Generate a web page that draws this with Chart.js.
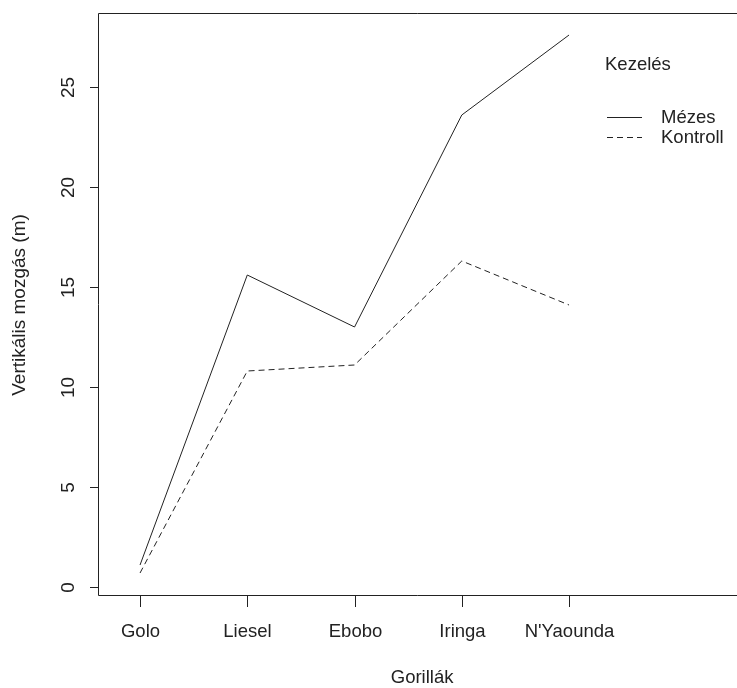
<!DOCTYPE html>
<html>
<head>
<meta charset="utf-8">
<script src="https://cdn.jsdelivr.net/npm/chart.js@4.4.1/dist/chart.umd.min.js"></script>
<style>
html,body{margin:0;padding:0;background:#fff;}
#wrap{width:737px;height:688px;position:relative;}
</style>
</head>
<body>
<div id="wrap"><canvas id="c" width="737" height="688"></canvas></div>
<script>
const categories = ["Golo", "Liesel", "Ebobo", "Iringa", "N'Yaounda"];
const mezes = [1.1, 15.6, 13.0, 23.6, 27.6];
const kontroll = [0.7, 10.8, 11.1, 16.3, 14.1];
const yTicks = [0, 5, 10, 15, 20, 25];
const seriesNames = ["Mézes", "Kontroll"];
const legendTitle = "Kezelés";
const xTitle = "Gorillák";
const yTitle = "Vertikális mozgás (m)";

const FONT_H = '18.5px "Liberation Sans", Arial, sans-serif';
const FONT_V = '19px "Liberation Sans", Arial, sans-serif';
const INK = '#222';

function pts(arr){ return arr.map((v,i)=>({x:i,y:v})); }

const rPlot = {
  id:'rPlot',
  afterDraw(chart){
    const ctx = chart.ctx, ca = chart.chartArea;
    const xs = chart.scales.x, ys = chart.scales.y;
    ctx.save();
    ctx.strokeStyle = INK; ctx.lineWidth = 1;
    // box (left, top, bottom; right side lies beyond the picture)
    ctx.beginPath();
    ctx.moveTo(chart.width, Math.round(ca.top)+0.5);
    ctx.lineTo(Math.round(ca.left)+0.5, Math.round(ca.top)+0.5);
    ctx.lineTo(Math.round(ca.left)+0.5, Math.round(ca.bottom)+0.5);
    ctx.lineTo(chart.width, Math.round(ca.bottom)+0.5);
    ctx.stroke();
    ctx.fillStyle = INK;
    // y ticks
    ctx.font = FONT_V;
    yTicks.forEach(t=>{
      const py = Math.round(ys.getPixelForValue(t))+0.5;
      ctx.beginPath(); ctx.moveTo(ca.left, py); ctx.lineTo(ca.left-8, py); ctx.stroke();
      ctx.save(); ctx.translate(ca.left-29, py); ctx.rotate(-Math.PI/2);
      ctx.textAlign='center'; ctx.textBaseline='middle'; ctx.fillText(String(t),0,0); ctx.restore();
    });
    // y title
    ctx.save(); ctx.translate(20, 305); ctx.rotate(-Math.PI/2);
    ctx.textAlign='center'; ctx.textBaseline='middle';
    ctx.fillText(yTitle,0,0); ctx.restore();
    // x ticks
    ctx.font = FONT_H;
    categories.forEach((c,i)=>{
      const px = Math.round(xs.getPixelForValue(i))+0.5;
      ctx.beginPath(); ctx.moveTo(px, ca.bottom+1); ctx.lineTo(px, ca.bottom+12); ctx.stroke();
      ctx.textAlign='center'; ctx.textBaseline='middle'; ctx.fillText(c, px, ca.bottom+37);
    });
    // x title, centred on the full plot region (which runs past the right edge)
    ctx.textAlign='center'; ctx.textBaseline='middle';
    ctx.fillText(xTitle, xs.getPixelForValue(2.63), 678);
    // legend
    ctx.textAlign='left';
    ctx.fillText(legendTitle, 605, 65);
    chart.data.datasets.forEach((ds,k)=>{
      const ly = 117 + k*20 + 0.5;
      ctx.save();
      ctx.setLineDash(ds.borderDash||[]);
      ctx.beginPath(); ctx.moveTo(607, ly); ctx.lineTo(642, ly); ctx.stroke();
      ctx.restore();
      ctx.fillText(ds.label, 661, ly);
    });
    ctx.restore();
  }
};

new Chart(document.getElementById('c'), {
  type:'line',
  data:{
    datasets:[
      {label:seriesNames[0], data:pts(mezes), borderColor:INK, borderWidth:1, pointRadius:0, tension:0, fill:false},
      {label:seriesNames[1], data:pts(kontroll), borderColor:INK, borderWidth:1, borderDash:[6,4], pointRadius:0, tension:0, fill:false}
    ]
  },
  options:{
    responsive:false, animation:false,
    layout:{padding:{top:13,right:0,left:0,bottom:0}},
    plugins:{legend:{display:false}, tooltip:{enabled:false}},
    scales:{
      x:{type:'linear', min:-0.392, max:5.566,
         grid:{display:false}, border:{display:false}, ticks:{display:false},
         afterFit(s){ s.height = 93; }},
      y:{type:'linear', min:-0.4, max:28.7,
         grid:{display:false}, border:{display:false}, ticks:{display:false},
         afterFit(s){ s.width = 98; }}
    }
  },
  plugins:[rPlot]
});
</script>
</body>
</html>
